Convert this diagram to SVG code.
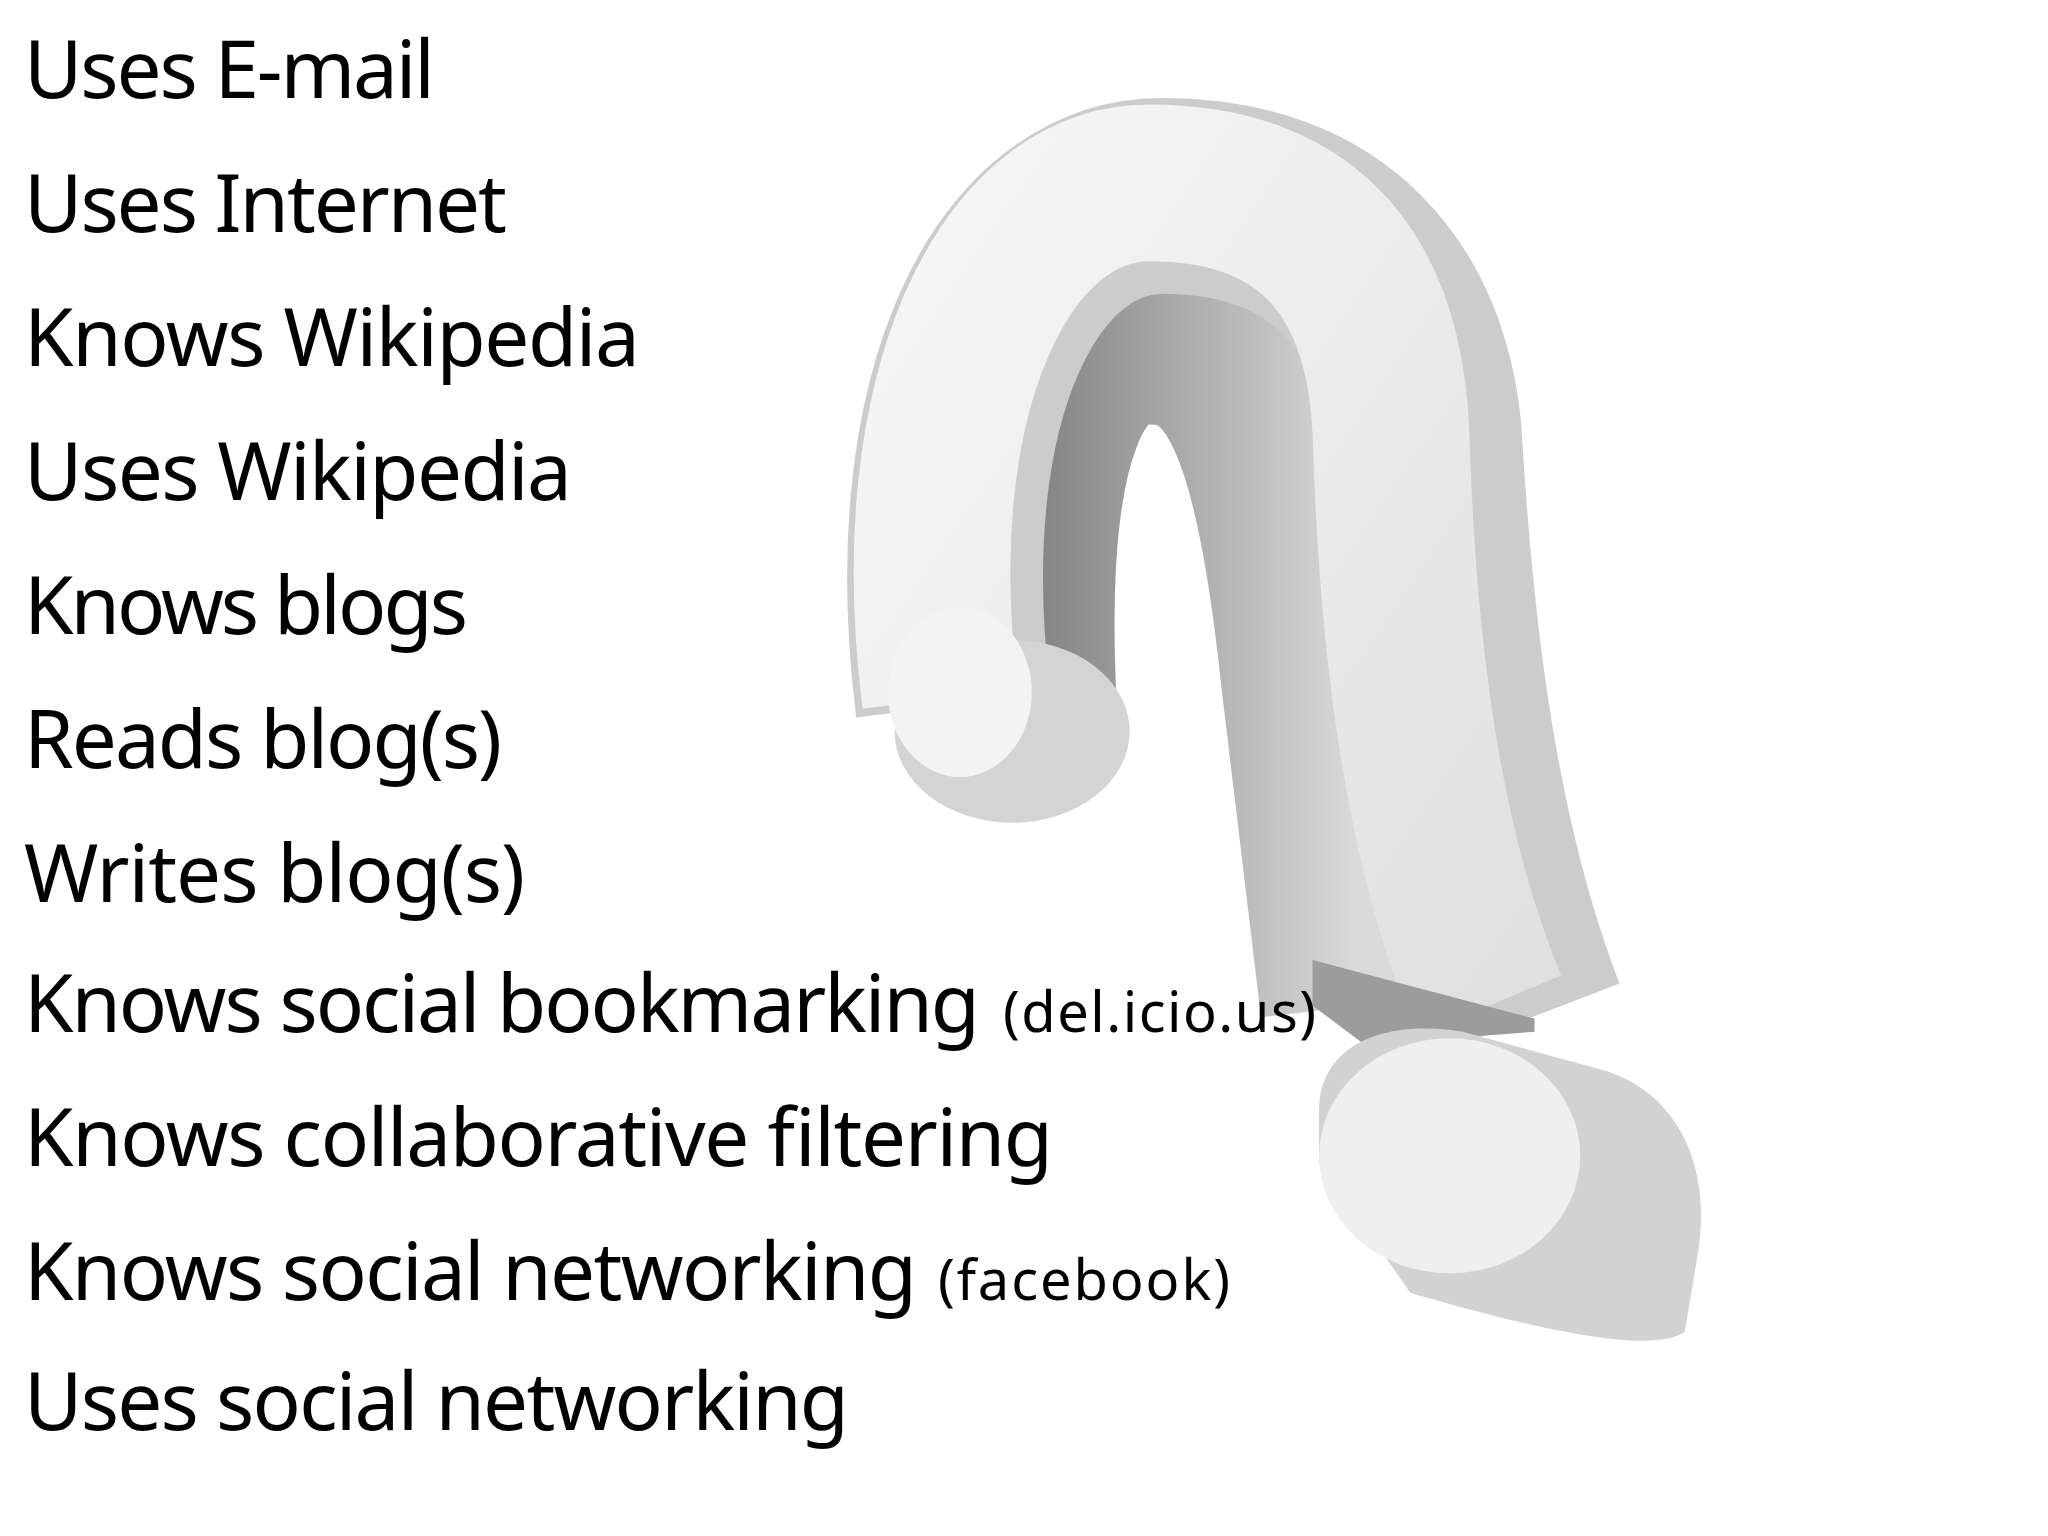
<svg xmlns="http://www.w3.org/2000/svg" width="2048" height="1536" viewBox="0 0 2048 1536">
<style>
.t{font-family:"Noto Sans","Open Sans",sans-serif;font-size:80px;fill:#000}
.s{font-size:56px}
</style>
<defs>
<linearGradient id="g1" x1="0" y1="0" x2="1" y2="1"><stop offset="0" stop-color="#f6f6f6"/><stop offset="1" stop-color="#e0e0e0"/></linearGradient>
<linearGradient id="g2" x1="0" y1="0" x2="1" y2="0"><stop offset="0" stop-color="#7e7e7e"/><stop offset="1" stop-color="#dadada"/></linearGradient>
</defs>
<rect width="2048" height="1536" fill="#fff"/>
<g id="qmark" transform="scale(1.306)">
<path d="M780,540 C770,330 810,250 880,250 C960,250 990,330 1010,520 L1040,770" fill="none" stroke="url(#g2)" stroke-width="150"/>
<path d="M730,540 C700,300 780,150 890,150 C1020,150 1080,230 1090,330 C1100,500 1120,650 1170,780" fill="none" stroke="#cccccc" stroke-width="150"/>
<path d="M720,535 C690,300 770,140 880,140 C1010,140 1060,220 1065,330 C1070,500 1090,650 1140,770" fill="none" stroke="url(#g1)" stroke-width="120"/>
<ellipse cx="775" cy="560" rx="90" ry="70" fill="#d4d4d4"/>
<ellipse cx="735" cy="530" rx="55" ry="65" fill="#f3f3f3"/>
<path d="M1005,735 L1175,780 L1175,790 L1045,800 L1005,770 Z" fill="#9c9c9c"/>
<path d="M1010,890 L1010,850 C1010,800 1060,780 1120,790 L1230,820 C1290,840 1310,900 1300,960 L1290,1020 C1260,1040 1150,1010 1080,990 Z" fill="#d2d2d2"/>
<ellipse cx="1110" cy="885" rx="100" ry="90" fill="#efefef"/>
</g>
<g id="list">
<text class="t" x="24" y="98" textLength="411">Uses E-mail</text>
<text class="t" x="24" y="232" textLength="483">Uses Internet</text>
<text class="t" x="24" y="366" textLength="616">Knows Wikipedia</text>
<text class="t" x="24" y="500" textLength="548">Uses Wikipedia</text>
<text class="t" x="24" y="634" textLength="444">Knows blogs</text>
<text class="t" x="24" y="768" textLength="478">Reads blog(s)</text>
<text class="t" x="24" y="902" textLength="501">Writes blog(s)</text>
<text class="t" x="24" y="1032"><tspan textLength="956">Knows social bookmarking</tspan> <tspan class="s" x="1003" textLength="313">(del.icio.us)</tspan></text>
<text class="t" x="24" y="1166" textLength="1029">Knows collaborative filtering</text>
<text class="t" x="24" y="1300"><tspan textLength="893">Knows social networking</tspan> <tspan class="s" x="938" textLength="292">(facebook)</tspan></text>
<text class="t" x="24" y="1430" textLength="825">Uses social networking</text>
</g>
</svg>
